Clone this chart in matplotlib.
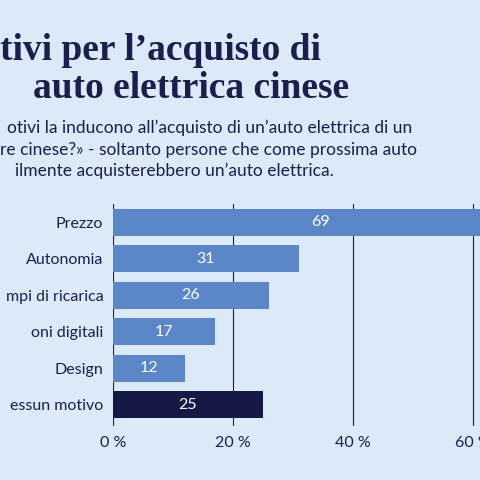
import matplotlib.pyplot as plt

labels = ['Prezzo', 'Autonomia', 'mpi di ricarica', 'oni digitali', 'Design', 'essun motivo']
values = [69, 31, 26, 17, 12, 25]
ticks = [0, 20, 40, 60]

bg = '#dce9f7'
navy = '#1a1f4d'
blue = '#5b87c8'
dark = '#141a45'

fig = plt.figure(figsize=(4.8, 4.8), dpi=100, facecolor=bg)

fig.text(0.0, 1 - 50 / 480, 'tivi per l\u2019acquisto di', fontsize=27, fontweight='bold',
         family='Liberation Serif', color=navy, va='center')
fig.text(33 / 480, 1 - 88 / 480, 'auto elettrica cinese', fontsize=27, fontweight='bold',
         family='Liberation Serif', color=navy, va='center')

sub = [(7, 128, 'otivi la inducono all\u2019acquisto di un\u2019auto elettrica di un'),
       (0, 150, 're cinese?\u00bb - soltanto persone che come prossima auto'),
       (15, 171, 'ilmente acquisterebbero un\u2019auto elettrica.')]
for x, y, s in sub:
    fig.text(x / 480, 1 - y / 480, s, fontsize=12.5, family='Lato', color=navy, va='center')

ax = fig.add_axes([113 / 480, 1 - 426 / 480, 1 - 113 / 480, 222 / 480])
ax.set_facecolor(bg)
ypos = list(range(len(values)))
colors = [blue] * (len(values) - 1) + [dark]
ax.barh(ypos, values, height=0.74, color=colors, zorder=2)
for y, v in zip(ypos, values):
    ax.text(v / 2, y, str(v), color='white', ha='center', va='center',
            fontsize=11.5, family='Lato', zorder=3)
ax.set_xlim(0, 367 / 6)
ax.set_ylim(len(values) - 0.42, -0.5)
for t in ticks:
    ax.axvline(t, color=navy, lw=0.8, zorder=1)
ax.set_xticks(ticks)
ax.set_xticklabels([f'{t} %' for t in ticks], fontsize=11.5, family='Lato', color=navy)
ax.set_yticks(ypos)
ax.set_yticklabels(labels, fontsize=11.5, family='Lato', color=navy)
ax.tick_params(length=0, pad=7)
ax.tick_params(axis='x', pad=7)
for s in ax.spines.values():
    s.set_visible(False)

fig.savefig('out.png', facecolor=bg)
